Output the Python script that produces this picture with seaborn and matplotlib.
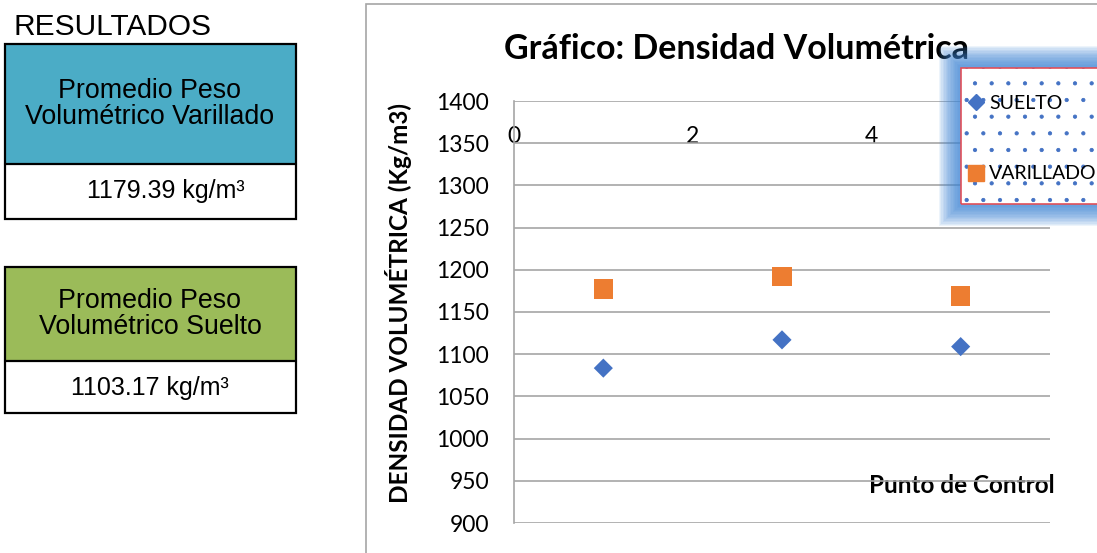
import numpy as np
import pandas as pd
import matplotlib
matplotlib.use("Agg")
import matplotlib.pyplot as plt
import seaborn as sns
from matplotlib.patches import Rectangle

# data
puntos = [1, 3, 5]
suelto = [1083.5, 1117.0, 1109.0]
varillado = [1177.0, 1192.0, 1169.0]
series_names = ["SUELTO", "VARILLADO"]
prom_varillado = "1179.39 kg/m³"
prom_suelto = "1103.17 kg/m³"
y_ticks = list(range(900, 1401, 50))
x_ticks = [0, 2, 4]

df = pd.DataFrame({
    "punto": puntos * 2,
    "densidad": suelto + varillado,
    "serie": [series_names[0]] * 3 + [series_names[1]] * 3,
})

sns.set_style("white")
plt.rcParams["font.family"] = ["Lato", "DejaVu Sans"]
plt.rcParams["text.color"] = "black"
plt.rcParams["axes.labelcolor"] = "black"
plt.rcParams["xtick.color"] = "black"
plt.rcParams["ytick.color"] = "black"
plt.rcParams["hatch.linewidth"] = 0.6

W, H = 1097, 553
fig = plt.figure(figsize=(W / 100, H / 100), dpi=100)


def fx(px):
    return px / W


def fy(py):
    return 1 - py / H


def frect(x0, y0, x1, y1, **kw):
    r = Rectangle((fx(x0), fy(y1)), fx(x1) - fx(x0), fy(y0) - fy(y1),
                  transform=fig.transFigure, **kw)
    fig.add_artist(r)
    return r


# left side summary boxes
arial = ["Liberation Sans", "DejaVu Sans"]
fig.text(fx(14), fy(27), "RESULTADOS", family=arial, fontsize=21.5, va="center", ha="left")

frect(5, 44, 296, 164, facecolor="#4BACC6", edgecolor="none")
frect(5, 44, 296, 219, facecolor="none", edgecolor="black", lw=1.6)
fig.add_artist(plt.Line2D([fx(5), fx(296)], [fy(164), fy(164)], color="black", lw=1.6))
fig.text(fx(150), fy(104), "Promedio Peso\nVolumétrico Varillado", family=arial, fontsize=19.3,
         ha="center", va="center", linespacing=1.05)
fig.text(fx(166), fy(191), prom_varillado, family=arial, fontsize=18, ha="center", va="center")

frect(5, 267, 296, 361, facecolor="#9BBB59", edgecolor="none")
frect(5, 267, 296, 413, facecolor="none", edgecolor="black", lw=1.6)
fig.add_artist(plt.Line2D([fx(5), fx(296)], [fy(361), fy(361)], color="black", lw=1.6))
fig.text(fx(150), fy(314), "Promedio Peso\nVolumétrico Suelto", family=arial, fontsize=19.3,
         ha="center", va="center", linespacing=1.05)
fig.text(fx(150), fy(388), prom_suelto, family=arial, fontsize=18, ha="center", va="center")

# chart border
frect(366, 4, 1110, 570, facecolor="none", edgecolor="#A6A6A6", lw=1.2)

ax = fig.add_axes([fx(514), fy(523), fx(1050) - fx(514), fy(101) - fy(523)])
sns.scatterplot(data=df, x="punto", y="densidad", hue="serie", style="serie",
                markers={"SUELTO": "D", "VARILLADO": "s"},
                palette={"SUELTO": "#4472C4", "VARILLADO": "#ED7D31"},
                s=190, linewidth=0, ax=ax, legend=False)
# diamond a bit smaller than the square
ax.collections[0].set_sizes([95 if m == "SUELTO" else 200 for m in df["serie"]])

ax.set_xlim(0, 6)
ax.set_ylim(900, 1400)
ax.set_yticks(y_ticks)
ax.set_xticks(x_ticks)
ax.grid(axis="y", color="#A6A6A6", lw=1.2)
ax.grid(axis="x", visible=False)
ax.set_axisbelow(True)
for side in ["top", "right", "bottom"]:
    ax.spines[side].set_visible(False)
ax.spines["left"].set_color("#A6A6A6")
ax.spines["left"].set_linewidth(1.2)
ax.tick_params(axis="y", length=0, labelsize=16.5, pad=18)
ax.tick_params(axis="x", top=True, labeltop=True, bottom=False, labelbottom=False,
               length=0, labelsize=16.5, pad=-33)

ax.set_ylabel("DENSIDAD VOLUMÉTRICA (Kg/m3)", fontsize=17.5, fontweight="bold")
ax.yaxis.set_label_coords(-0.19, 0.522)
ax.set_xlabel("Punto de Control", fontsize=17.5, fontweight="bold", va="center")
ax.xaxis.set_label_position("bottom")
ax.xaxis.set_label_coords((962 - 514) / 536, (523 - 474) / 422)

ax.set_title("Gráfico: Densidad Volumétrica", fontsize=24.5, fontweight="bold",
             x=(737 - 514) / 536, y=1.0, pad=30)

# legend with blue glow
for i in range(16, 0, -1):
    frect(961 - i * 1.4, 68 - i * 1.4, 1120, 204 + i * 1.4,
          facecolor="#3F86D6", edgecolor="none", alpha=0.09)
frect(961, 68, 1120, 204, facecolor="white", edgecolor="#4472C4", hatch=".", lw=0)
frect(961, 68, 1120, 204, facecolor="none", edgecolor="#E0505A", lw=1.2)

handles = [
    plt.Line2D([], [], marker="D", color="#4472C4", ls="none", markersize=8),
    plt.Line2D([], [], marker="s", color="#ED7D31", ls="none", markersize=11),
]
leg = fig.legend(handles, series_names, loc="upper left",
                 bbox_to_anchor=(fx(964), fy(95)), frameon=False, fontsize=14,
                 labelspacing=2.75, handletextpad=0.1, handlelength=1.2,
                 borderpad=0, borderaxespad=0)

fig.savefig("out.png", dpi=100)
